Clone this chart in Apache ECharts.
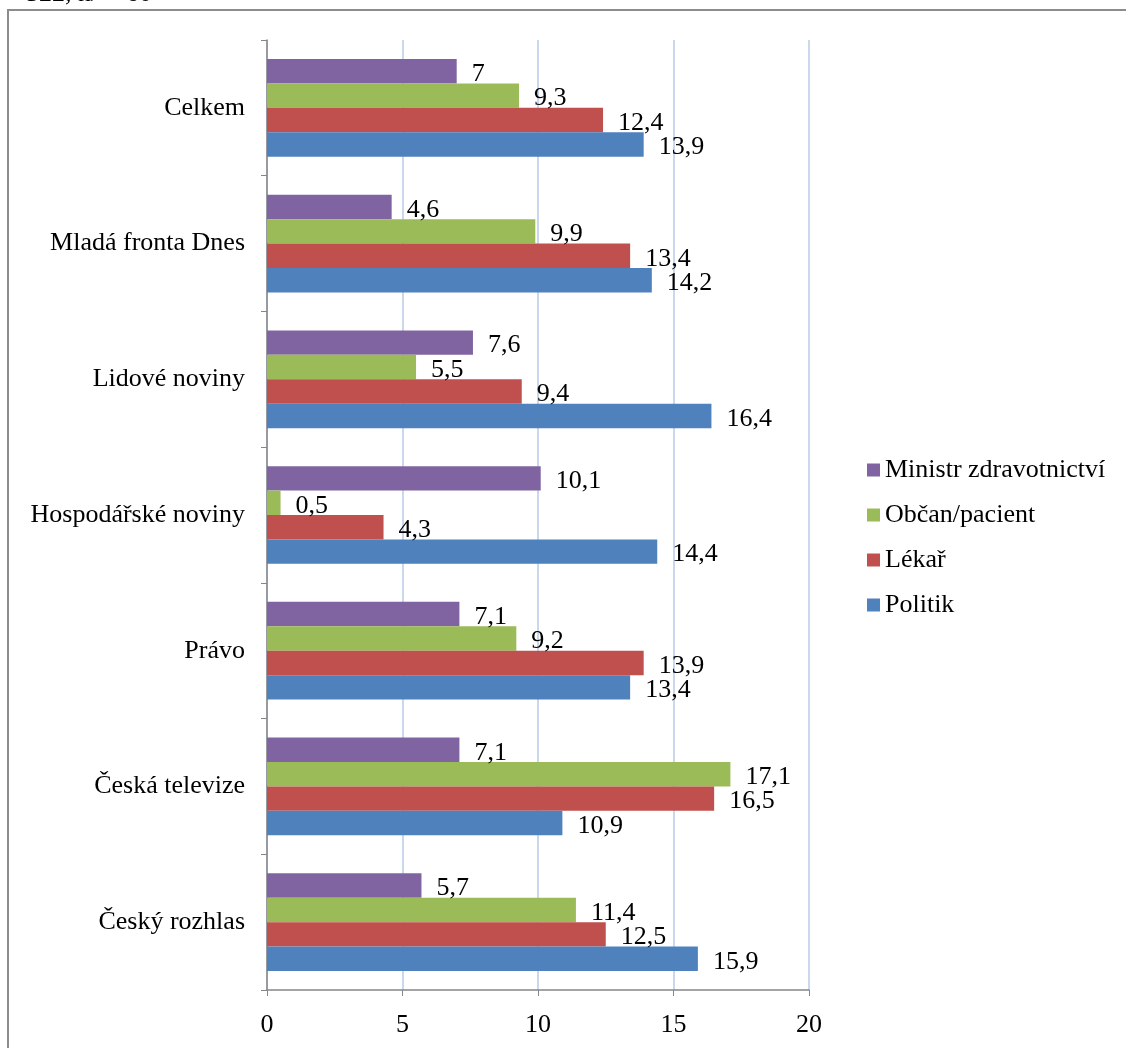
<html>
<head>
<meta charset="UTF-8">
<title>Graf</title>
<script type="text/javascript" src="https://cdn.jsdelivr.net/npm/echarts@6/dist/echarts.min.js"></script>
<style>
html, body { margin: 0; padding: 0; background: #fff; }
#main { width: 1126px; height: 1048px; }
</style>
</head>
<body>
<div id="main"></div>
<script type="text/javascript">
	// kategorie odspodu nahoru
	var categories = ['Český rozhlas', 'Česká televize', 'Právo', 'Hospodářské noviny', 'Lidové noviny', 'Mladá fronta Dnes', 'Celkem'];
	var politik = [15.9, 10.9, 13.4, 14.4, 16.4, 14.2, 13.9];
	var lekar = [12.5, 16.5, 13.9, 4.3, 9.4, 13.4, 12.4];
	var obcan = [11.4, 17.1, 9.2, 0.5, 5.5, 9.9, 9.3];
	var ministr = [5.7, 7.1, 7.1, 10.1, 7.6, 4.6, 7];
	var xTicks = [0, 5, 10, 15, 20];

	var fontName = 'Liberation Serif';
	var fontSize = 26;

	function makeSeries(name, data, color){
		return {
			name : name,
			type : 'bar',
			data : data,
			barGap : '0%',
			barCategoryGap : '28%',
			itemStyle : { color : color },
			label : {
				show : true,
				position : 'right',
				distance : 15,
				offset : [0, 3],
				color : '#000',
				fontSize : fontSize,
				fontFamily : fontName,
				formatter : function(p){
					return String(p.value).replace('.', ',');
				}
			}
		};
	}

	var myChart = echarts.init(document.getElementById('main'));
	var option = {
		animation : false,
		backgroundColor : '#fff',
		textStyle : { fontFamily : fontName, color : '#000' },
		graphic : [
			{
				type : 'rect',
				shape : { x : 8, y : 10, width : 1140, height : 1060 },
				style : { fill : 'none', stroke : '#8c8c8c', lineWidth : 2 }
			},
			{
				type : 'text',
				left : 26,
				top : -19,
				style : { text : '522, n/ = 60', fontSize : fontSize, fontFamily : fontName, fill : '#000' }
			}
		],
		grid : { left : 267, right : 317, top : 40, bottom : 58, containLabel : false },
		legend : {
			orient : 'vertical',
			left : 862,
			top : 452,
			itemWidth : 13,
			itemHeight : 13,
			itemGap : 19,
			icon : 'rect',
			data : ['Ministr zdravotnictví', 'Občan/pacient', 'Lékař', 'Politik'],
			textStyle : { fontSize : fontSize, fontFamily : fontName, color : '#000', padding : [0, 0, 0, 0] }
		},
		xAxis : {
			type : 'value',
			min : xTicks[0],
			max : xTicks[xTicks.length - 1],
			interval : 5,
			axisLine : { show : true, lineStyle : { color : '#868686', width : 1.5 } },
			axisTick : { show : true, length : 6, lineStyle : { color : '#868686' } },
			axisLabel : { margin : 22, fontSize : fontSize, fontFamily : fontName, color : '#000' },
			splitLine : { show : true, lineStyle : { color : '#b9cbe8', width : 1.5 } }
		},
		yAxis : {
			type : 'category',
			data : categories,
			axisLine : { show : true, lineStyle : { color : '#868686', width : 1.5 } },
			axisTick : { show : true, length : 6, lineStyle : { color : '#868686' } },
			axisLabel : { margin : 22, fontSize : fontSize, fontFamily : fontName, color : '#000' },
			splitLine : { show : false }
		},
		// prvni serie je v ECharts nahore
		series : [
			makeSeries('Ministr zdravotnictví', ministr, '#8064a2'),
			makeSeries('Občan/pacient', obcan, '#9bbb59'),
			makeSeries('Lékař', lekar, '#c0504d'),
			makeSeries('Politik', politik, '#4f81bd')
		]
	};
	myChart.setOption(option);
</script>
</body>
</html>
